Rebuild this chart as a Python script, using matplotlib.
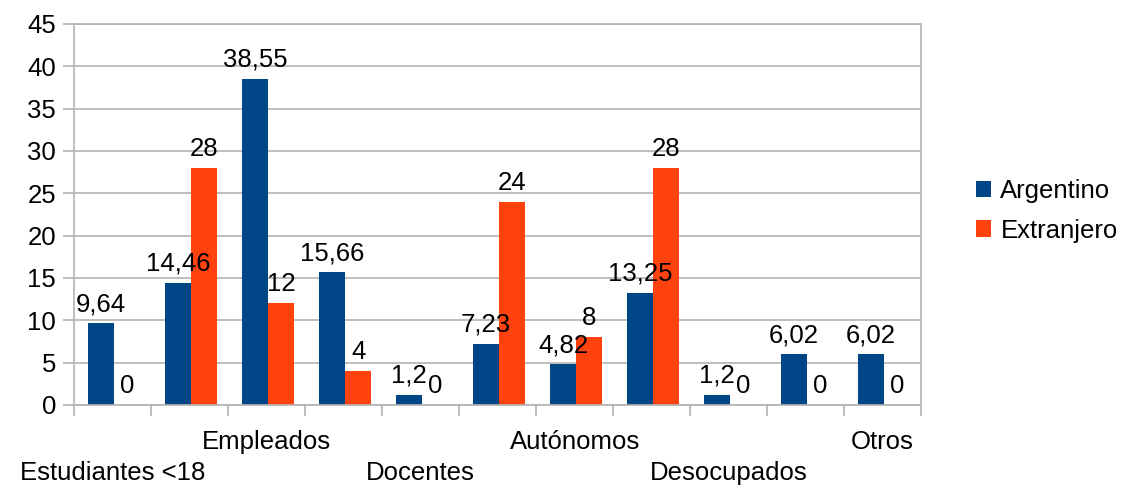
import numpy as np
import matplotlib
matplotlib.use('Agg')
import matplotlib.pyplot as plt

plt.rcParams['font.family'] = ['Liberation Sans', 'DejaVu Sans']

# categories (only some labels are shown in the original chart)
categories = ['Estudiantes <18', '', 'Empleados', '', 'Docentes', '',
              'Autónomos', '', 'Desocupados', '', 'Otros']
argentino = [9.64, 14.46, 38.55, 15.66, 1.2, 7.23, 4.82, 13.25, 1.2, 6.02, 6.02]
extranjero = [0, 28, 12, 4, 0, 24, 8, 28, 0, 0, 0]
series_names = ['Argentino', 'Extranjero']
colors = ['#004586', '#ff420e']
grid_color = '#b3b3b3'
fs = 18.5

fig = plt.figure(figsize=(11.22, 4.86), dpi=100)
ax = fig.add_axes([0.066, 0.1667, 0.755, 0.784])

x = np.arange(len(categories))
w = 0.34
b1 = ax.bar(x - w / 2 + 0.02, argentino, w, color=colors[0], label=series_names[0], zorder=2)
b2 = ax.bar(x + w / 2 + 0.02, extranjero, w, color=colors[1], label=series_names[1], zorder=2)


def fmt(v):
    return ('%g' % v).replace('.', ',')


for bars, vals in [(b1, argentino), (b2, extranjero)]:
    for rect, v in zip(bars, vals):
        ax.annotate(fmt(v), (rect.get_x() + rect.get_width() / 2, v),
                    xytext=(0, 5), textcoords='offset points',
                    ha='center', va='bottom', fontsize=fs, zorder=5)

ax.set_xlim(-0.5, len(categories) - 0.5)
ax.set_ylim(0, 45)
ax.set_yticks(np.arange(0, 46, 5))
ax.yaxis.grid(True, color=grid_color, lw=1.2, zorder=0)
ax.tick_params(axis='y', length=8, color=grid_color, width=1.2, labelsize=fs, pad=5)

# staggered category labels: every other shown label goes on a second row
labels = []
for i, c in enumerate(categories):
    if not c:
        labels.append('')
    elif i % 4 == 0:
        labels.append('\n' + c)
    else:
        labels.append(c)
ax.set_xticks(x)
ax.set_xticklabels(labels, fontsize=fs, linespacing=1.36)
ax.tick_params(axis='x', length=0, pad=18)
ax.set_xticks(np.arange(-0.5, len(categories), 1), minor=True)
ax.tick_params(axis='x', which='minor', length=8, color=grid_color, width=1.2)

for sp in ax.spines.values():
    sp.set_color(grid_color)
    sp.set_linewidth(1.2)

ax.legend(loc='center left', bbox_to_anchor=(976 / 1122, 0.566),
          bbox_transform=fig.transFigure, frameon=False, borderpad=0,
          borderaxespad=0, fontsize=fs, handlelength=0.6, handleheight=0.6,
          handletextpad=0.35, labelspacing=0.6)

plt.savefig('out.png', dpi=100)
